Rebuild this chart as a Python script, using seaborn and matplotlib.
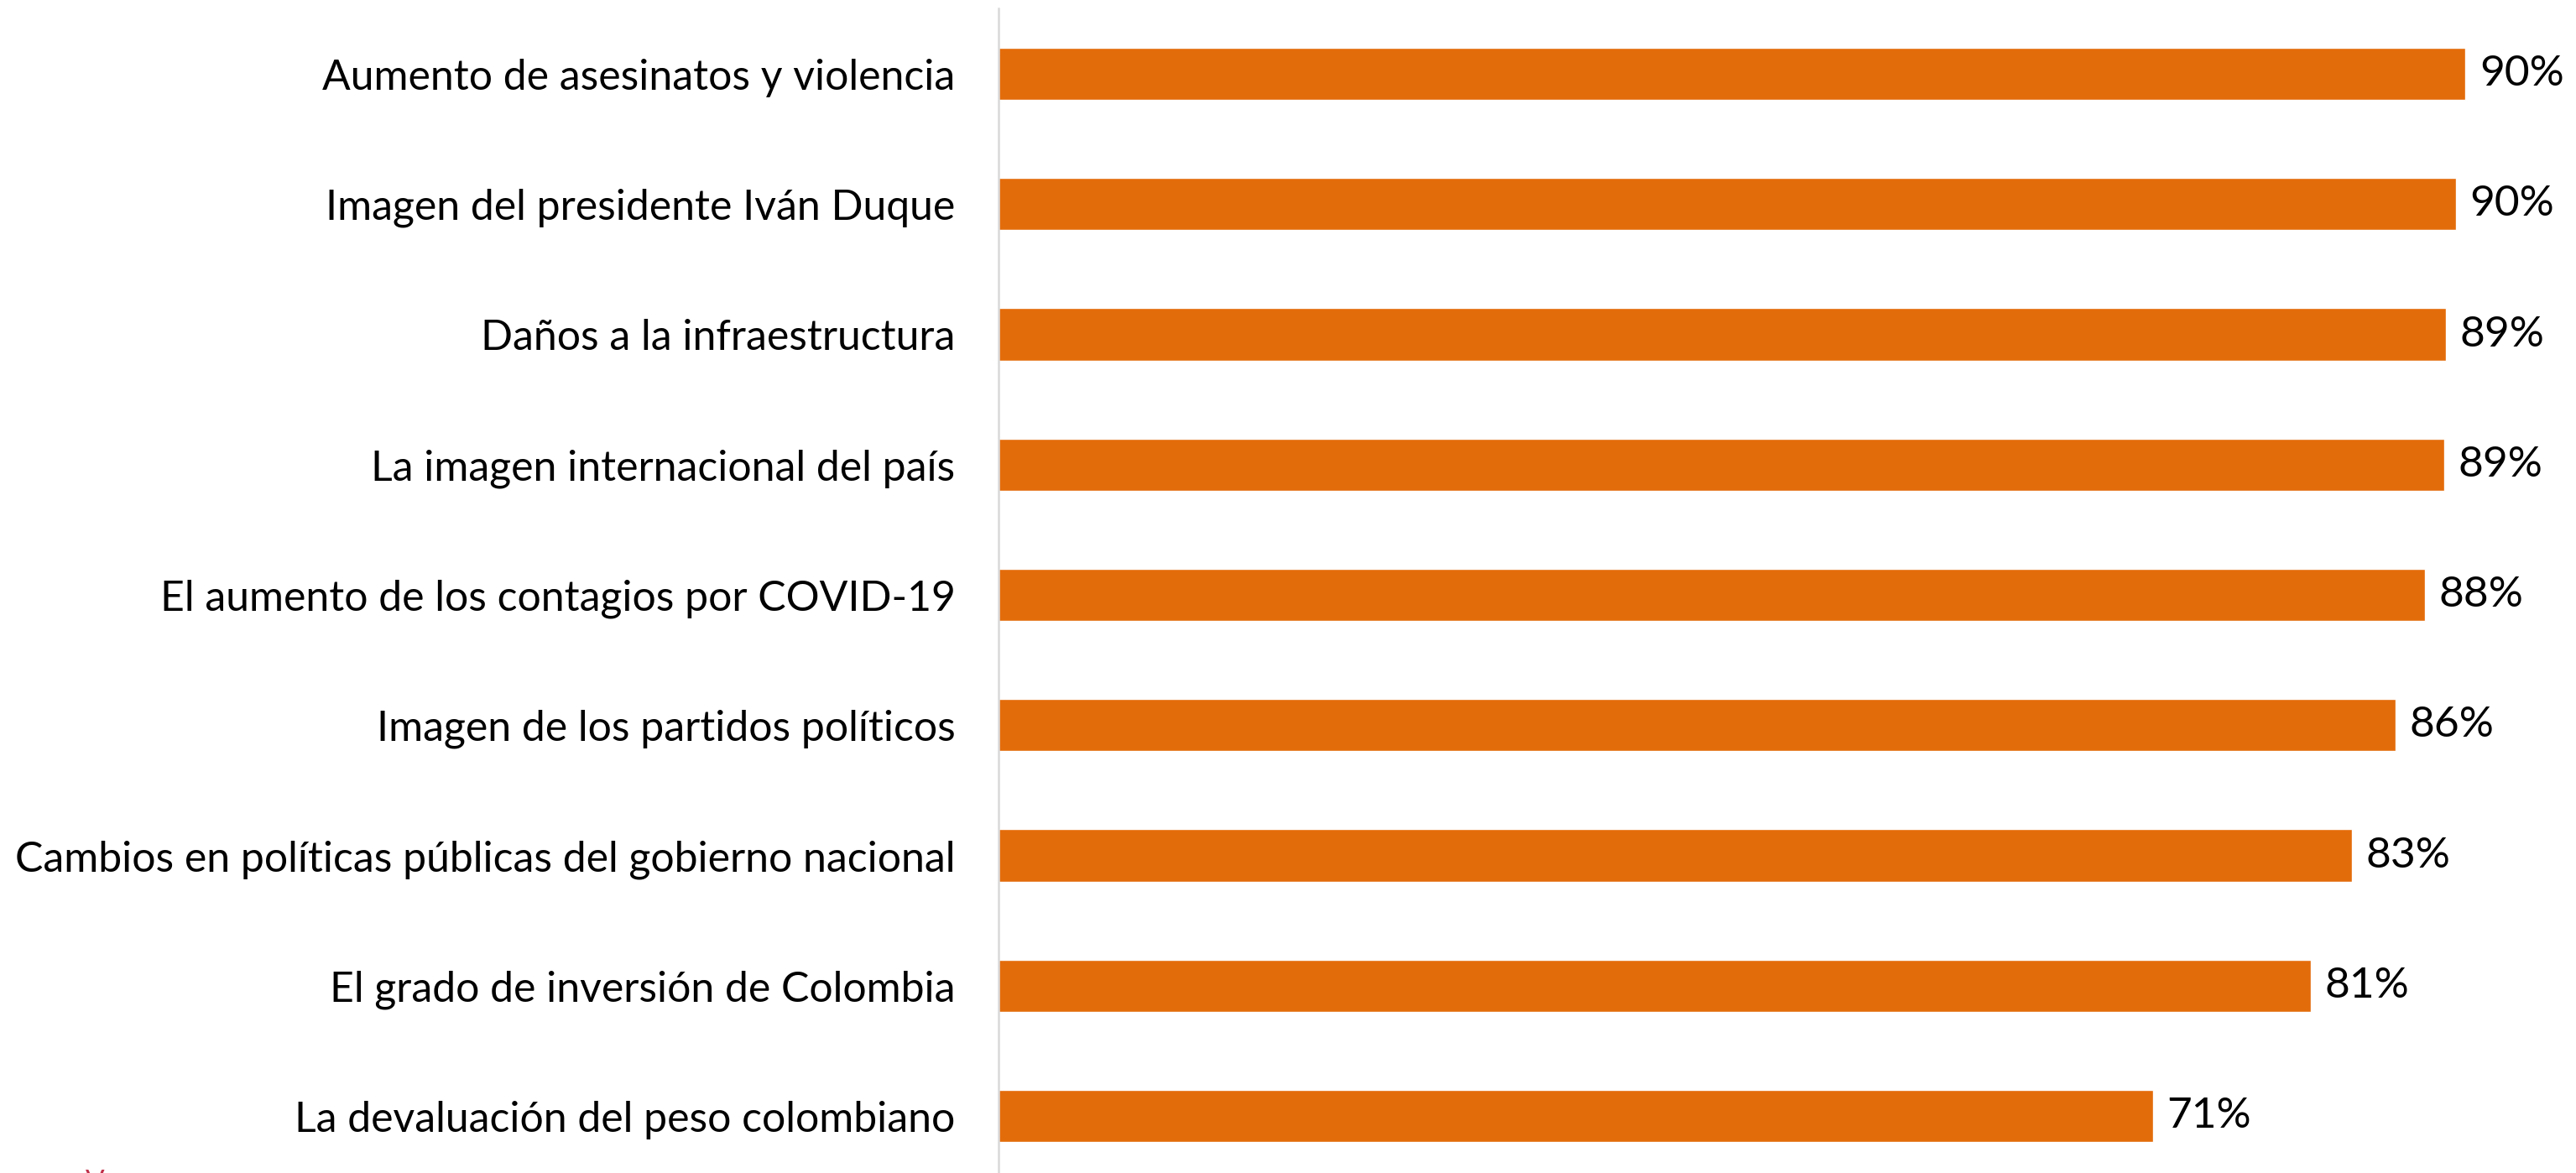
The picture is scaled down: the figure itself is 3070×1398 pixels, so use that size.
import matplotlib
matplotlib.use("Agg")
import matplotlib.pyplot as plt
import seaborn as sns
import pandas as pd

categories = [
    "Aumento de asesinatos y violencia",
    "Imagen del presidente Iván Duque",
    "Daños a la infraestructura",
    "La imagen internacional del país",
    "El aumento de los contagios por COVID-19",
    "Imagen de los partidos políticos",
    "Cambios en políticas públicas del gobierno nacional",
    "El grado de inversión de Colombia",
    "La devaluación del peso colombiano",
]
values = [90.2, 89.6, 89.0, 88.9, 87.7, 85.9, 83.2, 80.7, 71.0]

bar_color = "#E36C0A"

sns.set_theme(style="white")
plt.rcParams["font.family"] = ["Lato", "DejaVu Sans"]

W, H, DPI = 3070, 1398, 100
fig = plt.figure(figsize=(W / DPI, H / DPI), dpi=DPI)
ax = fig.add_axes([1190 / W, 0.0, 1 - 1190 / W, 1 - 10.4 / H])

df = pd.DataFrame({"categoria": categories, "valor": values})
sns.barplot(data=df, x="valor", y="categoria", orient="h",
            color=bar_color, saturation=1, width=0.4, ax=ax)

ax.set_xlim(0, 97.0)
ax.set_ylim(8.438, -0.5)
ax.set_xlabel("")
ax.set_ylabel("")
ax.set_xticks([])

for side in ["top", "right", "bottom"]:
    ax.spines[side].set_visible(False)
ax.spines["left"].set_color("#D9D9D9")
ax.spines["left"].set_linewidth(1.8)

ax.tick_params(axis="y", length=0, pad=37, labelsize=35.9, labelcolor="black")

ax.bar_label(ax.containers[0], labels=[f"{v:.0f}%" for v in values],
             padding=12, fontsize=37, color="black")

fig.text(113 / W, -20 / H, "V", color="#C0304A", fontsize=24,
         ha="center", va="baseline")

fig.savefig("out.png", dpi=DPI)
